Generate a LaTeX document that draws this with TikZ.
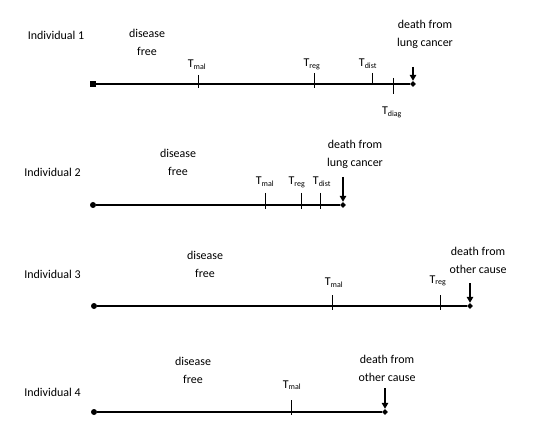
\documentclass[tikz,border=0pt]{standalone}
\usepackage{fontspec}
\setmainfont{Carlito}
\usetikzlibrary{arrows.meta,shapes.geometric}
\begin{document}
\begin{tikzpicture}[x=1bp,y=-1bp, font=\fontsize{12}{18}\selectfont,
 lbl/.style={inner sep=0pt, align=center},
 tlbl/.style={inner sep=0pt, anchor=base},
 axis/.style={line width=1.6bp},
 tickline/.style={line width=0.8bp},
 deatharrow/.style={line width=1.5bp, -{Triangle[length=6bp,width=6.5bp]}},
 startdot/.style={circle, fill, inner sep=0pt, minimum size=6bp},
 startsq/.style={rectangle, fill, inner sep=0pt, minimum size=5.5bp},
 enddia/.style={diamond, fill, inner sep=0pt, minimum size=6bp}]
\useasboundingbox (0,0) rectangle (538,448);
\newcommand{\Tsub}[1]{T\textsubscript{\fontsize{8}{9}\selectfont #1}}

% ---------- Individual 1 ----------
\node[lbl] (ind1) at (56,35) {Individual 1};
\node[lbl] (df1) at (147,42.5) {disease\\free};
\node[lbl] (dt1) at (425,34.5) {death from\\lung cancer};
\node[startsq] (s1) at (93,84) {};
\node[enddia] (e1) at (413,84) {};
\draw[axis] (s1) -- (e1);
\draw[tickline] (198,75) -- (198,88);
\draw[tickline] (314,73) -- (314,88);
\draw[tickline] (372,73) -- (372,85);
\draw[tickline] (393,78) -- (393,94);
\node[tlbl] (tm1) at (197,68) {\Tsub{mal}};
\node[tlbl] (tr1) at (312,67) {\Tsub{reg}};
\node[tlbl] (td1) at (368,67) {\Tsub{dist}};
\node[tlbl] (tg1) at (392,115) {\Tsub{diag}};
\coordinate (a1) at (413,67);
\draw[deatharrow] (a1) -- (e1.north);

% ---------- Individual 2 ----------
\node[lbl] (ind2) at (52.5,172.5) {Individual 2};
\node[lbl] (df2) at (178,162) {disease\\free};
\node[lbl] (dt2) at (355,154) {death from\\lung cancer};
\node[startdot] (s2) at (93,205) {};
\node[enddia] (e2) at (343,205) {};
\draw[axis] (s2) -- (e2);
\draw[tickline] (265,193) -- (265,209);
\draw[tickline] (301,193) -- (301,209);
\draw[tickline] (320,193) -- (320,209);
\node[tlbl] (tm2) at (265,185) {\Tsub{mal}};
\node[tlbl] (tr2) at (297,185) {\Tsub{reg}};
\node[tlbl] (td2) at (322,185) {\Tsub{dist}};
\coordinate (a2) at (343,177);
\draw[deatharrow] (a2) -- (e2.north);

% ---------- Individual 3 ----------
\node[lbl] (ind3) at (52.5,274) {Individual 3};
\node[lbl] (df3) at (205,264.5) {disease\\free};
\node[lbl] (dt3) at (478,260.5) {death from\\other cause};
\node[startdot] (s3) at (94,306) {};
\node[enddia] (e3) at (470,306) {};
\draw[axis] (s3) -- (e3);
\draw[tickline] (332,295) -- (332,310);
\draw[tickline] (440,295) -- (440,310);
\node[tlbl] (tm3) at (334,285.5) {\Tsub{mal}};
\node[tlbl] (tr3) at (438,283) {\Tsub{reg}};
\coordinate (a3) at (470,283);
\draw[deatharrow] (a3) -- (e3.north);

% ---------- Individual 4 ----------
\node[lbl] (ind4) at (52.5,392) {Individual 4};
\node[lbl] (df4) at (193,370) {disease\\free};
\node[lbl] (dt4) at (387,368.5) {death from\\other cause};
\node[startdot] (s4) at (94,412) {};
\node[enddia] (e4) at (385,412) {};
\draw[axis] (s4) -- (e4);
\draw[tickline] (291,400) -- (291,415);
\node[tlbl] (tm4) at (292,388) {\Tsub{mal}};
\coordinate (a4) at (385,388);
\draw[deatharrow] (a4) -- (e4.north);
\end{tikzpicture}
\end{document}
